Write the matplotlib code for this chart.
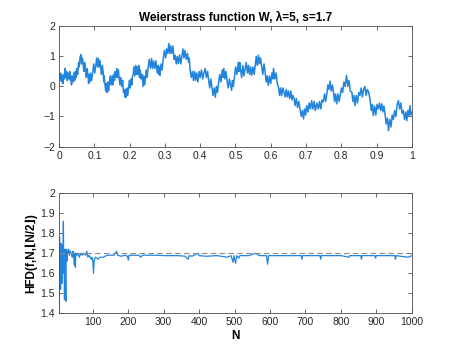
import matplotlib.pyplot as plt
import numpy as np

plt.rcParams["font.family"] = ["Liberation Sans", "DejaVu Sans"]

# ── Data ─────────────────────────────────────────────────────────────────────
# top: Weierstrass function, hand-read peaks / valleys of the ragged curve
t = [0.000, 0.002, 0.004, 0.006, 0.008, 0.0095, 0.011, 0.013, 0.015, 0.017,
     0.019, 0.021, 0.023, 0.025, 0.0275, 0.030, 0.032, 0.0335, 0.035, 0.037,
     0.040, 0.042, 0.044, 0.046, 0.048, 0.050, 0.0525, 0.055, 0.057, 0.059,
     0.0615, 0.0635, 0.066, 0.068, 0.070, 0.0725, 0.075, 0.077, 0.0795, 0.082,
     0.0835, 0.085, 0.0865, 0.089, 0.092, 0.095, 0.098, 0.101, 0.104, 0.1065,
     0.109, 0.1115, 0.1135, 0.116, 0.118, 0.120, 0.1225, 0.125, 0.1265, 0.128,
     0.130, 0.132, 0.134, 0.136, 0.138, 0.140, 0.142, 0.1445, 0.147, 0.150,
     0.152, 0.1545, 0.157, 0.159, 0.1615, 0.164, 0.166, 0.168, 0.170, 0.1725,
     0.175, 0.178, 0.180, 0.1825, 0.185, 0.1865, 0.188, 0.190, 0.192, 0.1945,
     0.197, 0.199, 0.2015, 0.204, 0.206, 0.208, 0.210, 0.212, 0.2145, 0.217,
     0.219, 0.2215, 0.224, 0.226, 0.228, 0.230, 0.2325, 0.235, 0.238, 0.240,
     0.2425, 0.245, 0.247, 0.2495, 0.252, 0.2555, 0.259, 0.262, 0.265, 0.268,
     0.271, 0.2745, 0.278, 0.281, 0.2825, 0.284, 0.286, 0.289, 0.292, 0.295,
     0.2985, 0.302, 0.305, 0.308, 0.311, 0.3135, 0.316, 0.319, 0.3225, 0.326,
     0.329, 0.332, 0.335, 0.338, 0.3415, 0.345, 0.348, 0.351, 0.354, 0.357,
     0.3605, 0.364, 0.367, 0.369, 0.371, 0.3745, 0.378, 0.381, 0.384, 0.387,
     0.390, 0.3935, 0.397, 0.400, 0.4035, 0.407, 0.4105, 0.414, 0.4175, 0.421,
     0.424, 0.427, 0.430, 0.433, 0.4365, 0.440, 0.443, 0.446, 0.449, 0.452,
     0.4555, 0.459, 0.4625, 0.465, 0.467, 0.470, 0.473, 0.476, 0.4795, 0.483,
     0.486, 0.489, 0.4915, 0.494, 0.497, 0.5005, 0.504, 0.508, 0.510, 0.512,
     0.514, 0.5175, 0.521, 0.524, 0.527, 0.5305, 0.534, 0.537, 0.540, 0.543,
     0.546, 0.5495, 0.553, 0.556, 0.559, 0.562, 0.565, 0.568, 0.571, 0.574,
     0.5775, 0.581, 0.584, 0.587, 0.590, 0.593, 0.5965, 0.600, 0.6035, 0.606,
     0.608, 0.6115, 0.615, 0.6185, 0.622, 0.625, 0.628, 0.631, 0.6345, 0.638,
     0.641, 0.644, 0.647, 0.650, 0.6535, 0.657, 0.660, 0.663, 0.666, 0.669,
     0.6725, 0.676, 0.6795, 0.683, 0.6865, 0.690, 0.693, 0.696, 0.699, 0.702,
     0.7055, 0.709, 0.7125, 0.716, 0.7195, 0.723, 0.7265, 0.731, 0.735, 0.7385,
     0.742, 0.7455, 0.749, 0.7525, 0.756, 0.759, 0.762, 0.765, 0.768, 0.7715,
     0.775, 0.778, 0.781, 0.784, 0.787, 0.7905, 0.794, 0.797, 0.8005, 0.804,
     0.8075, 0.811, 0.815, 0.8185, 0.822, 0.8255, 0.830, 0.833, 0.836, 0.839,
     0.8425, 0.846, 0.8495, 0.853, 0.8565, 0.860, 0.8635, 0.867, 0.8705, 0.874,
     0.878, 0.882, 0.885, 0.888, 0.891, 0.8945, 0.898, 0.9015, 0.905, 0.9085,
     0.912, 0.915, 0.918, 0.921, 0.924, 0.9275, 0.931, 0.934, 0.9375, 0.941,
     0.9445, 0.948, 0.9515, 0.955, 0.9585, 0.962, 0.9655, 0.969, 0.9725, 0.976,
     0.9795, 0.983, 0.986, 0.989, 0.992, 0.995, 0.9975, 1.000]
w = [0.25, 0.45, 0.20, 0.42, 0.15, 0.35, 0.10, 0.40, 0.25, 0.60,
     0.30, 0.50, 0.20, 0.45, 0.25, 0.50, 0.20, 0.35, 0.05, 0.35,
     0.15, 0.45, 0.20, 0.50, 0.30, 0.60, 0.40, 0.80, 0.65, 0.95,
     1.06, 0.75, 0.95, 0.75, 0.50, 0.80, 0.55, 0.30, 0.60, 0.35,
     0.10, 0.40, 0.15, 0.45, 0.20, 0.45, 0.75, 0.45, 0.70, 0.95,
     0.65, 0.93, 0.65, 0.85, 0.60, 0.40, 0.70, 0.45, 0.15, 0.35,
     0.05, -0.15, 0.10, -0.20, 0.15, -0.15, 0.05, 0.35, 0.05, 0.35,
     0.05, 0.40, 0.20, 0.50, 0.30, 0.60, 0.30, 0.55, 0.30, 0.05,
     0.30, 0.00, 0.20, -0.20, -0.10, -0.35, -0.10, -0.36, -0.05, -0.30,
     -0.05, 0.20, -0.05, 0.25, 0.05, 0.35, 0.40, 0.65, 0.35, 0.70,
     0.40, 0.65, 0.40, 0.70, 0.30, 0.55, 0.25, 0.40, 0.00, 0.35,
     0.05, 0.30, 0.55, 0.30, 0.60, 0.90, 0.60, 0.93, 0.60, 0.85,
     0.60, 0.85, 0.45, 0.70, 0.40, 0.65, 0.37, 0.75, 0.55, 0.90,
     1.20, 0.95, 1.25, 1.10, 1.43, 1.10, 1.35, 1.10, 1.35, 0.90,
     1.04, 0.75, 1.00, 0.76, 1.05, 0.75, 1.00, 1.25, 0.95, 1.20,
     0.90, 1.10, 0.80, 0.95, 0.60, 0.30, 0.50, 0.20, 0.50, 0.20,
     0.45, 0.15, 0.50, 0.30, 0.55, 0.25, 0.45, 0.60, 0.30, 0.50,
     0.20, -0.05, 0.25, 0.00, -0.30, -0.05, -0.36, 0.00, -0.20, 0.10,
     0.40, 0.15, 0.55, 0.30, 0.60, 0.25, 0.50, 0.20, -0.05, 0.25,
     0.05, -0.13, 0.20, 0.00, 0.30, 0.65, 0.40, 0.80, 0.50, 0.80,
     0.60, 0.30, 0.70, 0.35, 0.55, 0.80, 0.45, 0.70, 0.40, 0.65,
     0.37, 0.65, 0.40, 0.70, 1.00, 0.70, 1.04, 0.75, 0.95, 0.70,
     0.40, 0.75, 0.50, 0.15, 0.35, 0.03, 0.35, 0.10, 0.45, 0.25,
     0.60, 0.25, 0.45, 0.10, -0.02, -0.30, -0.05, -0.30, -0.05, -0.20,
     -0.35, -0.10, -0.35, -0.15, -0.40, -0.15, -0.45, -0.30, -0.40, -0.64,
     -0.40, -0.70, -0.50, -0.75, -1.00, -0.80, -1.08, -0.75, -0.95, -0.64,
     -0.85, -0.55, -0.75, -0.47, -0.75, -0.50, -0.80, -0.55, -0.75, -0.50,
     -0.75, -0.45, -0.52, -0.25, -0.50, -0.25, 0.05, -0.10, 0.18, -0.15,
     0.05, -0.20, -0.50, -0.25, -0.58, -0.25, -0.50, -0.30, -0.05, -0.20,
     0.15, 0.00, 0.37, 0.00, 0.20, -0.15, -0.19, -0.50, -0.30, -0.64,
     -0.30, -0.55, -0.20, -0.30, -0.05, -0.35, -0.10, 0.00, -0.30, -0.10,
     -0.20, -0.45, -0.80, -0.60, -0.97, -0.65, -0.95, -0.60, -0.75, -0.55,
     -0.80, -0.58, -0.85, -0.65, -0.90, -1.25, -1.05, -1.47, -1.10, -1.35,
     -0.95, -1.10, -0.80, -1.00, -0.60, -0.47, -0.75, -0.55, -0.90, -0.80,
     -1.10, -0.85, -1.14, -0.80, -1.00, -0.64, -0.95, -0.86]

# bottom: HFD estimate vs N
n_vals = [5, 6, 7, 8, 9, 10, 11, 12, 13, 14, 15, 16, 17, 18, 19, 20, 21, 22,
          23, 24, 25, 26, 27, 28, 30, 32, 34, 36, 38, 40, 42, 44, 46, 48, 49,
          51, 52, 55, 58, 62, 66, 70, 75, 80, 83, 86, 90, 95, 98, 100, 102,
          104, 108, 115, 120, 130, 140, 150, 160, 167, 170, 180, 190, 198,
          200, 202, 210, 230, 235, 240, 260, 280, 300, 320, 340, 360, 369,
          372, 380, 397, 400, 420, 450, 480, 490, 496, 498, 503, 506, 512,
          515, 540, 560, 570, 590, 593, 596, 620, 650, 688, 690, 692, 720,
          741, 743, 745, 780, 800, 823, 825, 856, 858, 860, 896, 898, 900,
          952, 954, 956, 990, 1000]
hfd = [1.40, 1.78, 1.56, 1.72, 1.52, 1.75, 1.58, 1.68, 1.55, 1.74, 1.60,
       1.72, 1.86, 1.62, 1.70, 1.47, 1.66, 1.72, 1.55, 1.46, 1.70, 1.72,
       1.66, 1.71, 1.70, 1.72, 1.69, 1.71, 1.70, 1.70, 1.68, 1.71, 1.69,
       1.64, 1.70, 1.63, 1.70, 1.69, 1.70, 1.68, 1.70, 1.69, 1.70, 1.69,
       1.71, 1.68, 1.69, 1.67, 1.68, 1.66, 1.60, 1.67, 1.68, 1.67, 1.68,
       1.68, 1.69, 1.69, 1.69, 1.71, 1.69, 1.685, 1.69, 1.685, 1.665, 1.69,
       1.69, 1.69, 1.68, 1.69, 1.69, 1.69, 1.688, 1.688, 1.688, 1.685,
       1.67, 1.688, 1.685, 1.70, 1.688, 1.685, 1.688, 1.68, 1.688, 1.655,
       1.688, 1.65, 1.688, 1.675, 1.688, 1.688, 1.70, 1.688, 1.688, 1.645,
       1.688, 1.688, 1.688, 1.688, 1.67, 1.688, 1.688, 1.688, 1.67, 1.688,
       1.688, 1.688, 1.68, 1.688, 1.688, 1.67, 1.688, 1.688, 1.675, 1.688,
       1.688, 1.67, 1.688, 1.68, 1.688]
s_dim = 1.7

line_c = "#2384dc"
axis_c = "#4d4d4d"

fig = plt.figure(figsize=(4.55, 3.52), dpi=100)
ax1 = fig.add_axes([0.13, 0.5838, 0.775, 0.3412])
ax2 = fig.add_axes([0.13, 0.11, 0.775, 0.3412])

for ax in (ax1, ax2):
    for sp in ax.spines.values():
        sp.set_color(axis_c)
        sp.set_linewidth(0.6)
    ax.tick_params(direction="in", length=3, width=0.6, color=axis_c,
                   labelsize=7.5, labelcolor="#262626", top=True, right=True, pad=3)

ax1.plot(t, w, color=line_c, linewidth=1.1)
ax1.set_xlim(0, 1)
ax1.set_ylim(-2, 2)
ax1.set_xticks(np.arange(0, 1.01, 0.1))
ax1.set_xticklabels(["0", "0.1", "0.2", "0.3", "0.4", "0.5", "0.6", "0.7",
                     "0.8", "0.9", "1"])
ax1.set_yticks([-2, -1, 0, 1, 2])
ax1.set_title("Weierstrass function W, \u03bb=5, s=1.7", fontsize=8.5,
              fontweight="bold", pad=4)

ax2.plot(n_vals, hfd, color=line_c, linewidth=0.9)
ax2.axhline(s_dim, color="#8c8c8c", linestyle=(0, (5, 3)), linewidth=0.8)
ax2.set_xlim(5, 1000)
ax2.set_ylim(1.4, 2)
ax2.set_xticks(np.arange(100, 1001, 100))
ax2.set_yticks(np.arange(1.4, 2.01, 0.1))
ax2.set_yticklabels(["1.4", "1.5", "1.6", "1.7", "1.8", "1.9", "2"])
ax2.set_xlabel("N", fontsize=8.5, fontweight="bold", labelpad=2)
ax2.set_ylabel("HFD(f,N,\u230aN/2\u230b)", fontsize=8.5, fontweight="bold",
               labelpad=2)

plt.savefig("out.png", dpi=100)
